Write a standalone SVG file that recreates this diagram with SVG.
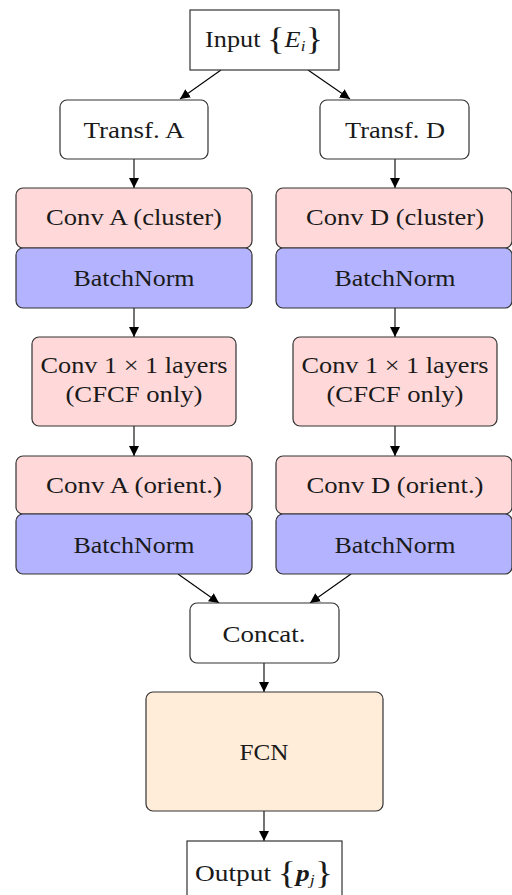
<svg xmlns="http://www.w3.org/2000/svg" width="512" height="895" viewBox="0 0 512 895">
<style>
text{font-family:"Liberation Serif","DejaVu Serif",serif;font-size:23px;fill:#1a1a1a;text-anchor:middle}
.b{stroke:#333;stroke-width:1.2}
.w{fill:#fff}
.p{fill:#ffd9d9}
.n{fill:#b3b3ff}
.o{fill:#ffecd9}
.c{stroke:#000;stroke-width:1.1;fill:none;marker-end:url(#ah)}
.m{font-style:italic}
.br{font-size:32px}
</style>
<defs>
<marker id="ah" viewBox="0 0 10 10" refX="10" refY="5" markerWidth="10" markerHeight="10" markerUnits="userSpaceOnUse" orient="auto"><path d="M0,0 L10,5 L0,10 z" fill="#000"/></marker>
</defs>
<g id="connectors">
<line class="c" x1="221" y1="70" x2="180" y2="99"/>
<line class="c" x1="308" y1="70" x2="350" y2="99"/>
<line class="c" x1="134" y1="159" x2="134" y2="188"/>
<line class="c" x1="395" y1="159" x2="395" y2="188"/>
<line class="c" x1="134" y1="308" x2="134" y2="337"/>
<line class="c" x1="395" y1="308" x2="395" y2="337"/>
<line class="c" x1="134" y1="426" x2="134" y2="456"/>
<line class="c" x1="395" y1="426" x2="395" y2="456"/>
<line class="c" x1="178" y1="574" x2="219" y2="603"/>
<line class="c" x1="351" y1="574" x2="310" y2="603"/>
<line class="c" x1="264" y1="663" x2="264" y2="692"/>
<line class="c" x1="264" y1="811" x2="264" y2="841"/>
</g>
<g font-family="'Liberation Serif', 'DejaVu Serif', serif">
<g id="input">
<rect class="b w" x="190" y="10" width="149" height="60"/>
<text x="264" y="47" textLength="118" lengthAdjust="spacingAndGlyphs">Input <tspan class="br" dy="3">{</tspan><tspan class="m" dy="-3">E</tspan><tspan class="m" font-size="15" dy="4">i</tspan><tspan class="br" dy="-1">}</tspan></text>
</g>
<g id="transfA">
<rect class="b w" x="60" y="100" width="148" height="59" rx="7"/>
<text x="134" y="138" textLength="101" lengthAdjust="spacingAndGlyphs">Transf. A</text>
</g>
<g id="transfD">
<rect class="b w" x="320" y="100" width="149" height="59" rx="7"/>
<text x="395" y="138" textLength="100" lengthAdjust="spacingAndGlyphs">Transf. D</text>
</g>
<g id="convAcluster">
<rect class="b p" x="16" y="188" width="236" height="60" rx="7"/>
<text x="134" y="225" textLength="176" lengthAdjust="spacingAndGlyphs">Conv A (cluster)</text>
</g>
<g id="bnA1">
<rect class="b n" x="16" y="248" width="236" height="60" rx="7"/>
<text x="134" y="286" textLength="121" lengthAdjust="spacingAndGlyphs">BatchNorm</text>
</g>
<g id="convDcluster">
<rect class="b p" x="276" y="188" width="236" height="60" rx="7"/>
<text x="395" y="225" textLength="178" lengthAdjust="spacingAndGlyphs">Conv D (cluster)</text>
</g>
<g id="bnD1">
<rect class="b n" x="276" y="248" width="236" height="60" rx="7"/>
<text x="395" y="286" textLength="121" lengthAdjust="spacingAndGlyphs">BatchNorm</text>
</g>
<g id="conv1x1A">
<rect class="b p" x="32" y="337" width="204" height="89" rx="7"/>
<text x="134" y="373" textLength="187" lengthAdjust="spacingAndGlyphs">Conv 1 × 1 layers</text>
<text x="134" y="402" textLength="137" lengthAdjust="spacingAndGlyphs">(CFCF only)</text>
</g>
<g id="conv1x1D">
<rect class="b p" x="293" y="337" width="204" height="89" rx="7"/>
<text x="395" y="373" textLength="187" lengthAdjust="spacingAndGlyphs">Conv 1 × 1 layers</text>
<text x="395" y="402" textLength="137" lengthAdjust="spacingAndGlyphs">(CFCF only)</text>
</g>
<g id="convAorient">
<rect class="b p" x="16" y="456" width="236" height="58" rx="7"/>
<text x="134" y="493" textLength="176" lengthAdjust="spacingAndGlyphs">Conv A (orient.)</text>
</g>
<g id="bnA2">
<rect class="b n" x="16" y="514" width="236" height="60" rx="7"/>
<text x="134" y="553" textLength="121" lengthAdjust="spacingAndGlyphs">BatchNorm</text>
</g>
<g id="convDorient">
<rect class="b p" x="276" y="456" width="236" height="58" rx="7"/>
<text x="395" y="493" textLength="177" lengthAdjust="spacingAndGlyphs">Conv D (orient.)</text>
</g>
<g id="bnD2">
<rect class="b n" x="276" y="514" width="236" height="60" rx="7"/>
<text x="395" y="553" textLength="121" lengthAdjust="spacingAndGlyphs">BatchNorm</text>
</g>
<g id="concat">
<rect class="b w" x="190" y="603" width="149" height="60" rx="7"/>
<text x="264" y="642" textLength="83" lengthAdjust="spacingAndGlyphs">Concat.</text>
</g>
<g id="fcn">
<rect class="b o" x="146" y="692" width="237" height="119" rx="7"/>
<text x="264" y="760" textLength="49" lengthAdjust="spacingAndGlyphs">FCN</text>
</g>
<g id="output">
<rect class="b w" x="187" y="841" width="155" height="60"/>
<text x="264" y="881" textLength="138" lengthAdjust="spacingAndGlyphs">Output <tspan class="br" dy="3">{</tspan><tspan class="m" font-weight="bold" dy="-3">p</tspan><tspan class="m" font-size="15" dy="4">j</tspan><tspan class="br" dy="-1">}</tspan></text>
</g>
</g>
</svg>
